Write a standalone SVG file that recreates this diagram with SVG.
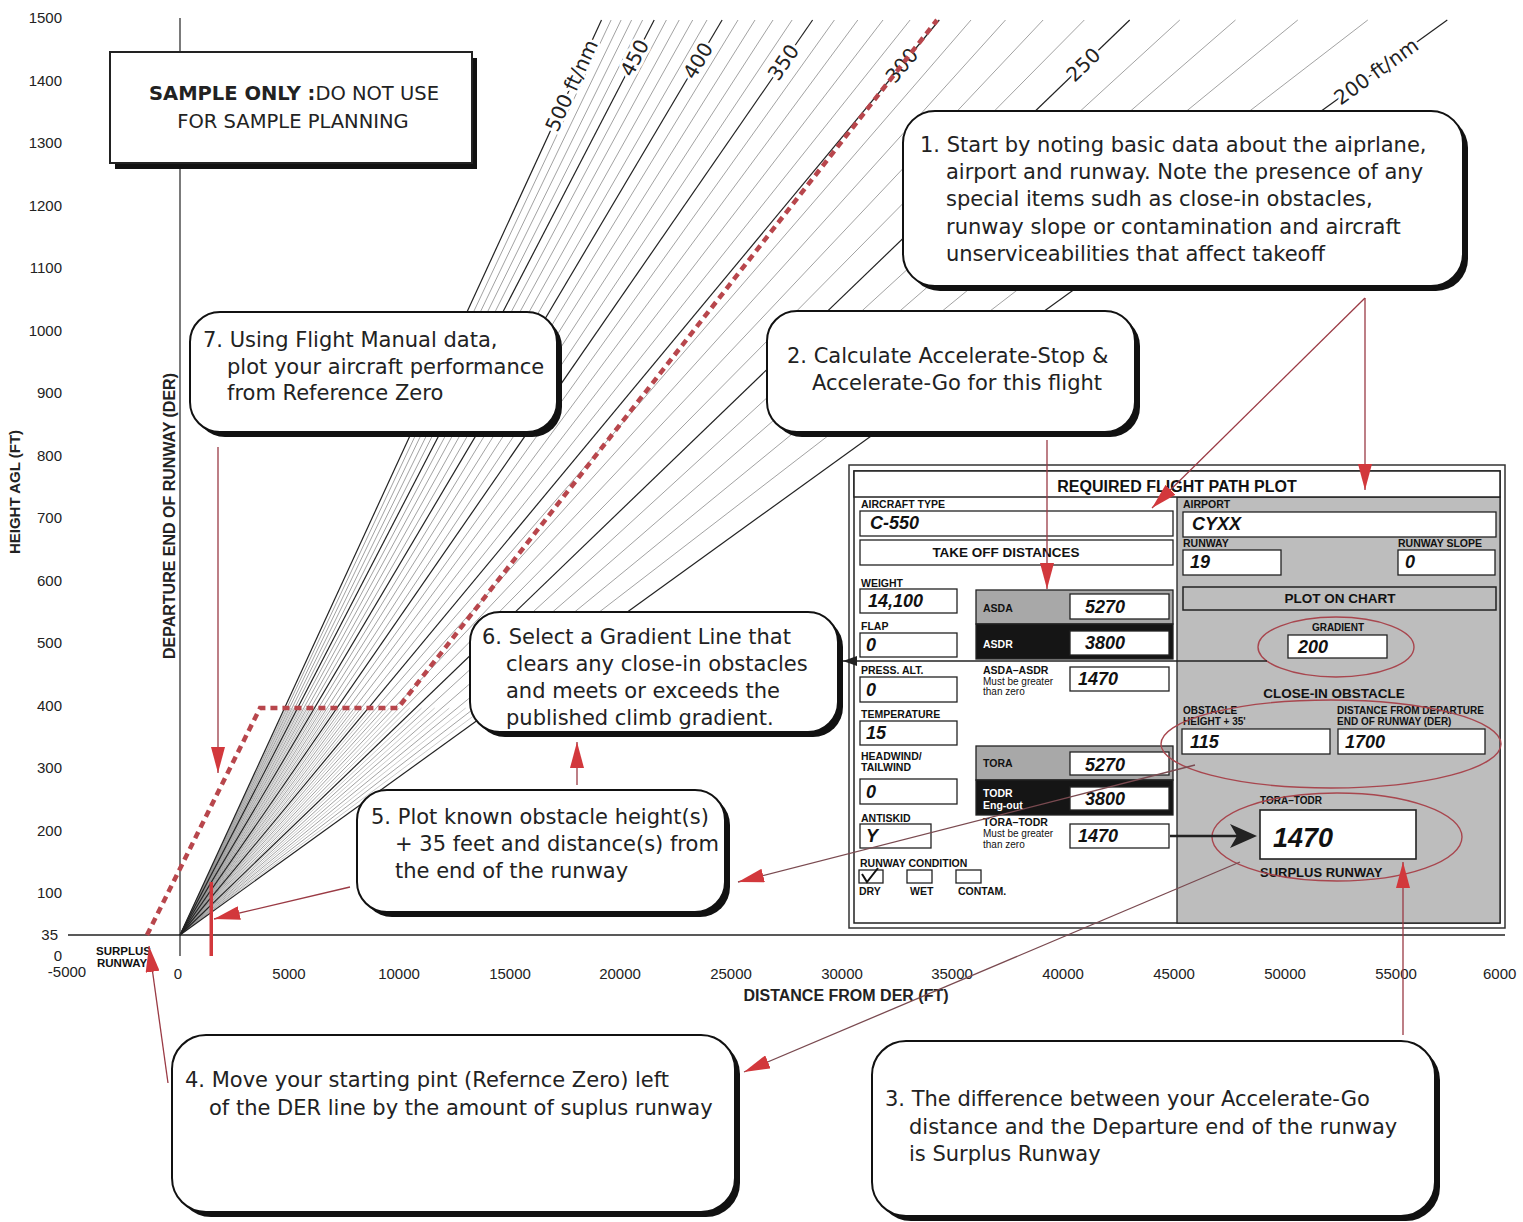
<svg xmlns="http://www.w3.org/2000/svg" width="1523" height="1222" viewBox="0 0 1523 1222">
<defs>
<style>
.ax{font-family:"Liberation Sans",Arial,sans-serif;font-size:15px;fill:#222}
.axt{font-family:"Liberation Sans",Arial,sans-serif;font-size:15px;font-weight:bold;fill:#222}
.mj{stroke:#222;stroke-width:1.2}
.mn{stroke:#8a8a8a;stroke-width:0.8}
.hs{stroke:#a8a8a8;stroke-width:0.6}
.gl{font-family:"DejaVu Sans",sans-serif;font-size:20px;fill:#222;stroke:#fff;stroke-width:6;paint-order:stroke;stroke-linejoin:round}
.co{font-family:"DejaVu Sans",sans-serif;font-size:21px;fill:#222}
.sh{fill:#111}
.bx{fill:#fff;stroke:#111;stroke-width:2}
.perf{fill:none;stroke:#b8464c;stroke-width:4.5;stroke-dasharray:7 5}
.fl{font-family:"Liberation Sans",Arial,sans-serif;font-size:10.5px;font-weight:bold;fill:#111}
.fs{font-family:"Liberation Sans",Arial,sans-serif;font-size:10px;fill:#111}
.fv{font-family:"Liberation Sans",Arial,sans-serif;font-size:18px;font-weight:bold;font-style:italic;fill:#111}
.fh{font-family:"Liberation Sans",Arial,sans-serif;font-size:13.5px;font-weight:bold;fill:#111}
.wb{fill:#fff;stroke:#222;stroke-width:1.3}
.rc{fill:none;stroke:#9a3a44;stroke-width:1.3}
.el{fill:none;stroke:#a8464e;stroke-width:1.4}
.bk{fill:none;stroke:#222;stroke-width:1.6}
</style>
<marker id="ra" viewBox="0 0 26 14" refX="26" refY="7" markerWidth="26" markerHeight="14" markerUnits="userSpaceOnUse" orient="auto">
<path d="M0,0 L26,7 L0,14 z" fill="#d2383c"/>
</marker>
<marker id="ka" viewBox="0 0 14 10" refX="14" refY="5" markerWidth="14" markerHeight="10" markerUnits="userSpaceOnUse" orient="auto">
<path d="M0,0 L14,5 L0,10 z" fill="#222"/>
</marker>
</defs>
<rect width="1523" height="1222" fill="#fff"/>

<g id="fan">
<g class="hs">
<line x1="180" y1="935" x2="484.2" y2="708"/><line x1="180" y1="935" x2="465.7" y2="708"/>
<line x1="180" y1="935" x2="449.3" y2="708"/><line x1="180" y1="935" x2="434.7" y2="708"/>
<line x1="180" y1="935" x2="421.6" y2="708"/><line x1="180" y1="935" x2="409.8" y2="708"/>
<line x1="180" y1="935" x2="399.1" y2="708"/><line x1="180" y1="935" x2="389.4" y2="708"/>
<line x1="180" y1="935" x2="380.4" y2="708"/><line x1="180" y1="935" x2="372.2" y2="708"/>
<line x1="180" y1="935" x2="364.7" y2="708"/><line x1="180" y1="935" x2="357.7" y2="708"/>
<line x1="180" y1="935" x2="351.2" y2="708"/><line x1="180" y1="935" x2="345.2" y2="708"/>
<line x1="180" y1="935" x2="339.6" y2="708"/><line x1="180" y1="935" x2="334.3" y2="708"/>
<line x1="180" y1="935" x2="329.4" y2="708"/><line x1="180" y1="935" x2="324.8" y2="708"/>
<line x1="180" y1="935" x2="320.5" y2="708"/><line x1="180" y1="935" x2="316.4" y2="708"/>
<line x1="180" y1="935" x2="312.6" y2="708"/><line x1="180" y1="935" x2="308.9" y2="708"/>
<line x1="180" y1="935" x2="305.5" y2="708"/><line x1="180" y1="935" x2="302.2" y2="708"/>
<line x1="180" y1="935" x2="299.1" y2="708"/><line x1="180" y1="935" x2="296.2" y2="708"/>
<line x1="180" y1="935" x2="293.4" y2="708"/><line x1="180" y1="935" x2="290.7" y2="708"/>
<line x1="180" y1="935" x2="288.2" y2="708"/><line x1="180" y1="935" x2="285.7" y2="708"/>
</g>
<g class="mn">
<line x1="180" y1="935" x2="1367.8" y2="20"/><line x1="180" y1="935" x2="1297.8" y2="20"/>
<line x1="180" y1="935" x2="1235.5" y2="20"/><line x1="180" y1="935" x2="1179.8" y2="20"/>
<line x1="180" y1="935" x2="1084.3" y2="20"/><line x1="180" y1="935" x2="1043.1" y2="20"/>
<line x1="180" y1="935" x2="1005.5" y2="20"/><line x1="180" y1="935" x2="971" y2="20"/>
<line x1="180" y1="935" x2="910.1" y2="20"/><line x1="180" y1="935" x2="883" y2="20"/>
<line x1="180" y1="935" x2="857.8" y2="20"/><line x1="180" y1="935" x2="834.4" y2="20"/>
<line x1="180" y1="935" x2="792.1" y2="20"/><line x1="180" y1="935" x2="773" y2="20"/>
<line x1="180" y1="935" x2="755" y2="20"/><line x1="180" y1="935" x2="738" y2="20"/>
<line x1="180" y1="935" x2="707" y2="20"/><line x1="180" y1="935" x2="692.7" y2="20"/>
<line x1="180" y1="935" x2="679.2" y2="20"/><line x1="180" y1="935" x2="666.4" y2="20"/>
<line x1="180" y1="935" x2="642.6" y2="20"/><line x1="180" y1="935" x2="631.6" y2="20"/>
<line x1="180" y1="935" x2="621.1" y2="20"/><line x1="180" y1="935" x2="611.1" y2="20"/>
</g>
<g class="mj">
<line x1="180" y1="935" x2="1447.3" y2="20"/><line x1="180" y1="935" x2="1129.7" y2="20"/>
<line x1="180" y1="935" x2="939.3" y2="20"/><line x1="180" y1="935" x2="812.6" y2="20"/>
<line x1="180" y1="935" x2="722.1" y2="20"/><line x1="180" y1="935" x2="654.2" y2="20"/>
<line x1="180" y1="935" x2="601.5" y2="20"/>
</g>
<text class="gl" transform="translate(557.4,132.9) rotate(-65.3)">500 ft/nm</text>
<text class="gl" transform="translate(632,78) rotate(-62.6)">450</text>
<text class="gl" transform="translate(694.3,80.6) rotate(-59.4)">400</text>
<text class="gl" transform="translate(778.3,82) rotate(-55.3)">350</text>
<text class="gl" transform="translate(894.9,84.5) rotate(-50.3)">300</text>
<text class="gl" transform="translate(1074.4,83) rotate(-43.9)">250</text>
<text class="gl" transform="translate(1340.6,105.7) rotate(-35.8)">200 ft/nm</text>
</g>

<g id="axes">
<line x1="180" y1="18" x2="180" y2="956" stroke="#333" stroke-width="1.3"/>
<line x1="68" y1="935" x2="1505" y2="935" stroke="#222" stroke-width="1.3"/>
<g class="ax" text-anchor="end">
<text x="62" y="23">1500</text><text x="62" y="85.5">1400</text><text x="62" y="148">1300</text>
<text x="62" y="210.5">1200</text><text x="62" y="273">1100</text><text x="62" y="335.5">1000</text>
<text x="62" y="398">900</text><text x="62" y="460.5">800</text><text x="62" y="523">700</text>
<text x="62" y="585.5">600</text><text x="62" y="648">500</text><text x="62" y="710.5">400</text>
<text x="62" y="773">300</text><text x="62" y="835.5">200</text><text x="62" y="898">100</text>
<text x="58" y="940">35</text><text x="62" y="960.5">0</text>
</g>
<g class="ax" text-anchor="middle">
<text x="67" y="977">-5000</text><text x="178" y="979">0</text><text x="289" y="979">5000</text>
<text x="399" y="979">10000</text><text x="510" y="979">15000</text><text x="620" y="979">20000</text>
<text x="731" y="979">25000</text><text x="842" y="979">30000</text><text x="952" y="979">35000</text>
<text x="1063" y="979">40000</text><text x="1174" y="979">45000</text><text x="1285" y="979">50000</text>
<text x="1396" y="979">55000</text>
</g>
<text class="ax" x="1483" y="979">6000</text>
<text class="axt" x="846" y="1001" text-anchor="middle" style="font-size:16px">DISTANCE FROM DER (FT)</text>
<text class="axt" transform="translate(20,492) rotate(-90)" text-anchor="middle">HEIGHT AGL (FT)</text>
<text class="axt" transform="translate(175,516) rotate(-90)" text-anchor="middle" style="font-size:16px">DEPARTURE END OF RUNWAY (DER)</text>
<text class="fl" x="96" y="955" style="font-size:11.5px">SURPLUS</text>
<text class="fl" x="97" y="967" style="font-size:11.5px">RUNWAY</text>
<rect x="209.5" y="882" width="3.5" height="74" fill="#d2383c"/>
<path class="perf" d="M147,935 L260,708 L398,708 L937,20"/>
</g>

<g id="sample-note">
<rect class="sh" x="115" y="58" width="362" height="111"/>
<rect x="110" y="52" width="362" height="111" fill="#fff" stroke="#222" stroke-width="2"/>
<text x="294" y="100" text-anchor="middle" font-family="DejaVu Sans, sans-serif" font-size="19.5" fill="#222"><tspan font-weight="bold">SAMPLE ONLY :</tspan>DO NOT USE</text>
<text x="293" y="128" text-anchor="middle" font-family="DejaVu Sans, sans-serif" font-size="19.5" fill="#222">FOR SAMPLE PLANNING</text>
</g>

<g id="callout-1">
<rect class="sh" x="908" y="116" width="560" height="175" rx="32"/>
<rect class="bx" x="903" y="111" width="560" height="175" rx="32"/>
<text class="co" x="920" y="152">1. Start by noting basic data about the aiprlane,</text>
<text class="co" x="946" y="179">airport and runway. Note the presence of any</text>
<text class="co" x="946" y="206">special items sudh as close-in obstacles,</text>
<text class="co" x="946" y="234">runway slope or contamination and aircraft</text>
<text class="co" x="946" y="261">unserviceabilities that affect takeoff</text>
</g>
<g id="callout-2">
<rect class="sh" x="772" y="316" width="368" height="121" rx="30"/>
<rect class="bx" x="767" y="311" width="368" height="121" rx="30"/>
<text class="co" x="787" y="363">2. Calculate Accelerate-Stop &amp;</text>
<text class="co" x="812" y="390">Accelerate-Go for this flight</text>
</g>
<g id="callout-7">
<rect class="sh" x="195" y="317" width="367" height="120" rx="30"/>
<rect class="bx" x="190" y="312" width="367" height="120" rx="30"/>
<text class="co" x="203" y="347">7. Using Flight Manual data,</text>
<text class="co" x="227" y="374">plot your aircraft performance</text>
<text class="co" x="227" y="400">from Reference Zero</text>
</g>
<g id="callout-6">
<rect class="sh" x="475" y="617" width="368" height="120" rx="30"/>
<rect class="bx" x="470" y="612" width="368" height="120" rx="30"/>
<text class="co" x="482" y="644">6. Select a Gradient Line that</text>
<text class="co" x="506" y="671">clears any close-in obstacles</text>
<text class="co" x="506" y="698">and meets or exceeds the</text>
<text class="co" x="506" y="725">published climb gradient.</text>
</g>
<g id="callout-5">
<rect class="sh" x="362" y="795" width="368" height="122" rx="30"/>
<rect class="bx" x="357" y="790" width="368" height="122" rx="30"/>
<text class="co" x="371" y="824">5. Plot known obstacle height(s)</text>
<text class="co" x="395" y="851">+ 35 feet and distance(s) from</text>
<text class="co" x="395" y="878">the end of the runway</text>
</g>
<g id="callout-4">
<rect class="sh" x="177" y="1040" width="563" height="177" rx="34"/>
<rect class="bx" x="172" y="1035" width="563" height="177" rx="34"/>
<text class="co" x="185" y="1087">4. Move your starting pint (Refernce Zero) left</text>
<text class="co" x="209" y="1115">of the DER line by the amount of suplus runway</text>
</g>
<g id="callout-3">
<rect class="sh" x="877" y="1046" width="563" height="175" rx="34"/>
<rect class="bx" x="872" y="1041" width="563" height="175" rx="34"/>
<text class="co" x="885" y="1106">3. The difference between your Accelerate-Go</text>
<text class="co" x="909" y="1134">distance and the Departure end of the runway</text>
<text class="co" x="909" y="1161">is Surplus Runway</text>
</g>

<g id="form">
<rect x="849" y="465" width="656" height="463" fill="#fff" stroke="#333" stroke-width="1.5"/>
<rect x="854" y="471" width="646" height="452" fill="#fff" stroke="#222" stroke-width="1.5"/>
<rect x="1177" y="497" width="323" height="426" fill="#bdbdbd" stroke="#222" stroke-width="1.3"/>
<rect x="854" y="471" width="646" height="26" fill="#fff" stroke="#222" stroke-width="1.5"/>
<text x="1177" y="492" text-anchor="middle" font-family="Liberation Sans, Arial, sans-serif" font-size="16" font-weight="bold" fill="#111">REQUIRED FLIGHT PATH PLOT</text>

<g id="left-fields">
<text class="fl" x="861" y="508">AIRCRAFT TYPE</text>
<rect class="wb" x="860" y="511" width="313" height="25"/>
<text class="fv" x="870" y="529">C-550</text>
<rect class="wb" x="860" y="540" width="313" height="25"/>
<text class="fh" x="1006" y="557" text-anchor="middle">TAKE OFF DISTANCES</text>
<text class="fl" x="861" y="587">WEIGHT</text>
<rect class="wb" x="860" y="589" width="97" height="24"/>
<text class="fv" x="868" y="607">14,100</text>
<text class="fl" x="861" y="630">FLAP</text>
<rect class="wb" x="860" y="633" width="97" height="24"/>
<text class="fv" x="866" y="651">0</text>
<text class="fl" x="861" y="674">PRESS. ALT.</text>
<rect class="wb" x="860" y="677" width="97" height="25"/>
<text class="fv" x="866" y="696">0</text>
<text class="fl" x="861" y="718">TEMPERATURE</text>
<rect class="wb" x="860" y="721" width="97" height="24"/>
<text class="fv" x="866" y="739">15</text>
<text class="fl" x="861" y="760">HEADWIND/</text>
<text class="fl" x="861" y="771">TAILWIND</text>
<rect class="wb" x="860" y="779" width="97" height="25"/>
<text class="fv" x="866" y="798">0</text>
<text class="fl" x="861" y="822">ANTISKID</text>
<rect class="wb" x="860" y="824" width="71" height="24"/>
<text class="fv" x="866" y="842">Y</text>
<text class="fl" x="860" y="867">RUNWAY CONDITION</text>
<rect class="wb" x="859" y="870" width="24" height="13"/>
<rect class="wb" x="907" y="870" width="25" height="13"/>
<rect class="wb" x="956" y="870" width="25" height="13"/>
<polyline points="862,874 867,882 878,868" fill="none" stroke="#111" stroke-width="2"/>
<text class="fl" x="859" y="895">DRY</text>
<text class="fl" x="910" y="895">WET</text>
<text class="fl" x="958" y="895">CONTAM.</text>

<rect x="976" y="590" width="197" height="34" fill="#a8a8a8" stroke="#222" stroke-width="1.3"/>
<rect x="976" y="624" width="197" height="35" fill="#151515" stroke="#222" stroke-width="1.3"/>
<text class="fl" x="983" y="612">ASDA</text>
<rect class="wb" x="1070" y="594" width="99" height="25"/>
<text class="fv" x="1085" y="613">5270</text>
<text class="fl" x="983" y="648" style="fill:#fff">ASDR</text>
<rect class="wb" x="1070" y="631" width="99" height="24"/>
<text class="fv" x="1085" y="649">3800</text>
<text class="fl" x="983" y="674">ASDA–ASDR</text>
<text class="fs" x="983" y="685">Must be greater</text>
<text class="fs" x="983" y="695">than zero</text>
<rect class="wb" x="1070" y="667" width="99" height="24"/>
<text class="fv" x="1078" y="685">1470</text>

<rect x="976" y="746" width="197" height="34" fill="#a8a8a8" stroke="#222" stroke-width="1.3"/>
<rect x="976" y="780" width="197" height="35" fill="#151515" stroke="#222" stroke-width="1.3"/>
<text class="fl" x="983" y="767">TORA</text>
<rect class="wb" x="1070" y="752" width="99" height="23"/>
<text class="fv" x="1085" y="771">5270</text>
<text class="fl" x="983" y="797" style="fill:#fff">TODR</text>
<text class="fl" x="983" y="809" style="fill:#fff">Eng-out</text>
<rect class="wb" x="1070" y="787" width="99" height="23"/>
<text class="fv" x="1085" y="805">3800</text>
<text class="fl" x="983" y="826">TORA–TODR</text>
<text class="fs" x="983" y="837">Must be greater</text>
<text class="fs" x="983" y="848">than zero</text>
<rect class="wb" x="1070" y="824" width="99" height="24"/>
<text class="fv" x="1078" y="842">1470</text>
</g>

<g id="right-fields">
<text class="fl" x="1183" y="508">AIRPORT</text>
<rect class="wb" x="1183" y="512" width="313" height="25"/>
<text class="fv" x="1192" y="530">CYXX</text>
<text class="fl" x="1183" y="547">RUNWAY</text>
<rect class="wb" x="1183" y="550" width="98" height="25"/>
<text class="fv" x="1190" y="568">19</text>
<text class="fl" x="1398" y="547">RUNWAY SLOPE</text>
<rect class="wb" x="1398" y="550" width="97" height="25"/>
<text class="fv" x="1405" y="568">0</text>
<rect x="1183" y="587" width="313" height="23" fill="none" stroke="#222" stroke-width="1.5"/>
<text class="fh" x="1340" y="603" text-anchor="middle">PLOT ON CHART</text>
<text class="fl" x="1338" y="631" text-anchor="middle" style="font-size:10px">GRADIENT</text>
<rect class="wb" x="1288" y="635" width="99" height="23"/>
<text class="fv" x="1298" y="653">200</text>
<text class="fh" x="1334" y="698" text-anchor="middle">CLOSE-IN OBSTACLE</text>
<text class="fl" x="1183" y="714" style="font-size:10px">OBSTACLE</text>
<text class="fl" x="1183" y="725" style="font-size:10px">HEIGHT + 35'</text>
<text class="fl" x="1337" y="714" style="font-size:10px">DISTANCE FROM DEPARTURE</text>
<text class="fl" x="1337" y="725" style="font-size:10px">END OF RUNWAY (DER)</text>
<rect class="wb" x="1182" y="729" width="148" height="25"/>
<text class="fv" x="1190" y="748">115</text>
<rect class="wb" x="1338" y="729" width="147" height="25"/>
<text class="fv" x="1345" y="748">1700</text>
<text class="fl" x="1260" y="804" style="font-size:10px">TORA–TODR</text>
<rect class="wb" x="1260" y="810" width="156" height="49" style="stroke-width:1.6"/>
<text class="fv" x="1273" y="847" style="font-size:27px">1470</text>
<text class="fl" x="1260" y="877" style="font-size:13px">SURPLUS RUNWAY</text>
<ellipse class="el" cx="1336" cy="647" rx="78" ry="30"/>
<ellipse class="el" cx="1331" cy="744" rx="170" ry="44"/>
<ellipse class="el" cx="1337" cy="837" rx="125" ry="44"/>
</g>
</g>

<g id="connectors">
<line class="rc" x1="1365" y1="298" x2="1365" y2="490" marker-end="url(#ra)"/>
<line class="rc" x1="1365" y1="298" x2="1152" y2="508" marker-end="url(#ra)"/>
<line class="rc" x1="1047" y1="440" x2="1047" y2="589" marker-end="url(#ra)"/>
<line class="rc" x1="218" y1="447" x2="218" y2="773" marker-end="url(#ra)"/>
<line class="rc" x1="577" y1="785" x2="577" y2="742" marker-end="url(#ra)"/>
<line class="rc" x1="350" y1="887" x2="214" y2="919" marker-end="url(#ra)"/>
<line class="rc" x1="1195" y1="765" x2="738" y2="882" marker-end="url(#ra)" style="stroke:#7a4a50"/>
<line class="rc" x1="1240" y1="862" x2="744" y2="1072" marker-end="url(#ra)" style="stroke:#7a4a50"/>
<line class="rc" x1="168" y1="1083" x2="149" y2="946" marker-end="url(#ra)"/>
<line class="rc" x1="1403" y1="1035" x2="1403" y2="862" marker-end="url(#ra)"/>
<line class="bk" x1="1267" y1="661" x2="843" y2="661" marker-end="url(#ka)"/>
<line class="bk" x1="1170" y1="836" x2="1240" y2="836" style="stroke-width:2.5"/>
<path d="M1257,836 L1230,824 L1237,836 L1230,848 z" fill="#222"/>
</g>
</svg>
